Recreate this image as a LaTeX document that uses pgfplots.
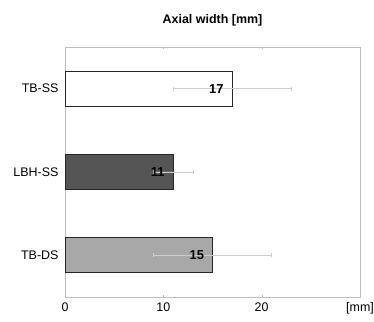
\documentclass[border=0pt]{standalone}
\usepackage{pgfplots}
\pgfplotsset{compat=1.18}
\usepackage{fontspec}
\setmainfont{Liberation Sans}
\definecolor{darkbar}{HTML}{555555}
\definecolor{lightbar}{HTML}{A8A8A8}
\definecolor{errgray}{HTML}{CDCDCD}
\begin{document}
\begin{tikzpicture}
\path[use as bounding box] (-65bp,-25bp) rectangle (309bp,297bp);
\begin{axis}[
  scale only axis, width=295bp, height=250bp,
  xbar, bar width=35bp, bar shift=0pt,
  xmin=0, xmax=30, ymin=-0.5, ymax=2.5,
  xtick={0,10,20,30}, xticklabels={0,10,20,{[mm]}},
  ytick={0,1,2}, yticklabels={TB-DS,LBH-SS,TB-SS},
  axis line style={black!25},
  major tick length=2bp,
  tick style={black!25},
  ytick style={draw=none},
  every tick label/.append style={font=\fontsize{12.5}{14}\selectfont},
  xticklabel style={yshift=-2bp},
  yticklabel style={xshift=-1bp},
  /pgf/number format/assume math mode=true,
  clip=false,
]
\addplot[draw=black!85, line width=0.8pt, fill=white,
  error bars/.cd, x dir=both, x explicit,
  error bar style={errgray, line width=0.7pt},
  error mark options={rotate=90, errgray, mark size=2bp}]
  coordinates {(17,2) +- (6,0)};
\addplot[draw=black!85, line width=0.8pt, fill=darkbar,
  error bars/.cd, x dir=both, x explicit,
  error bar style={errgray, line width=0.7pt},
  error mark options={rotate=90, errgray, mark size=2bp}]
  coordinates {(11,1) +- (2,0)};
\addplot[draw=black!85, line width=0.8pt, fill=lightbar,
  error bars/.cd, x dir=both, x explicit,
  error bar style={errgray, line width=0.7pt},
  error mark options={rotate=90, errgray, mark size=2bp}]
  coordinates {(15,0) +- (6,0)};
\addplot[draw=none, fill=none, only marks, mark=none,
  nodes near coords, point meta=explicit symbolic,
  nodes near coords style={anchor=east, xshift=-5bp, font=\fontsize{13}{15}\selectfont\bfseries}]
  coordinates {(17,2) [17] (11,1) [11] (15,0) [15]};
\node[font=\fontsize{12.5}{14}\selectfont\bfseries] at (rel axis cs:0.5,1) [yshift=27bp] {Axial width [mm]};
\end{axis}
\end{tikzpicture}
\end{document}
